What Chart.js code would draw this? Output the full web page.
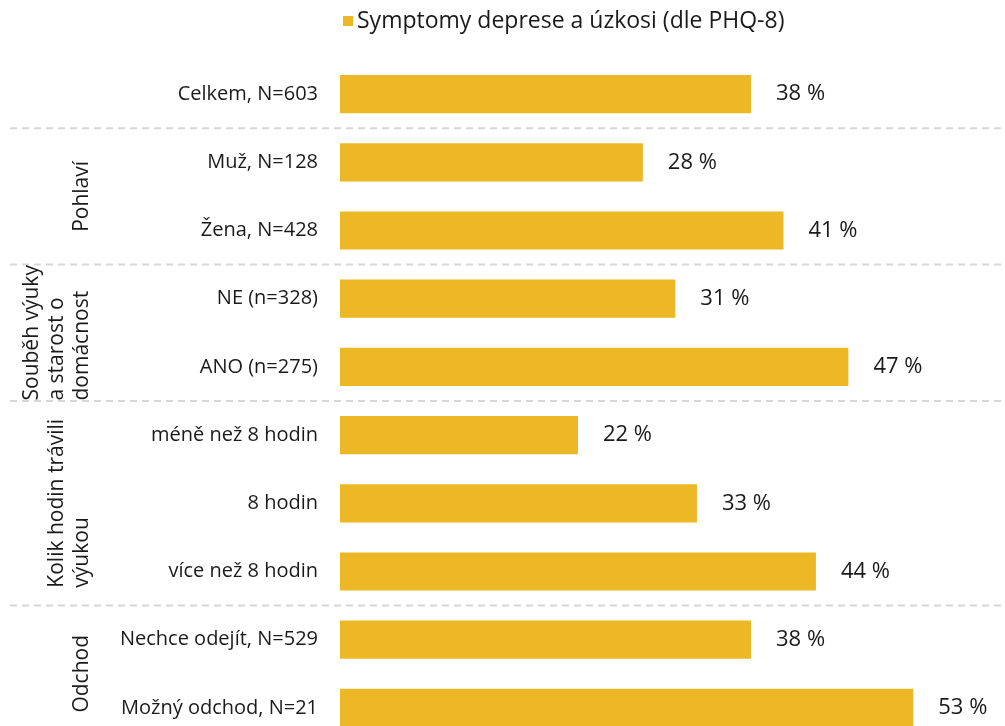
<!DOCTYPE html>
<html>
<head>
<meta charset="utf-8">
<script src="https://cdn.jsdelivr.net/npm/chart.js@4.4.0/dist/chart.umd.min.js"></script>
<style>
    html, body { margin: 0; padding: 0; background: #fff; overflow: hidden; }
    canvas { display: block; }
</style>
</head>
<body>
<canvas id="chart" width="1005" height="776"></canvas>
<script>
const categories = [
    'Celkem, N=603',
    'Muž, N=128', 'Žena, N=428',
    'NE (n=328)', 'ANO (n=275)',
    'méně než 8 hodin', '8 hodin', 'více než 8 hodin',
    'Nechce odejít, N=529', 'Možný odchod, N=21'
];
const values = [38, 28, 41, 31, 47, 22, 33, 44, 38, 53];
const seriesName = 'Symptomy deprese a úzkosi (dle PHQ-8)';

// group titles (lines) and index range of categories they cover
const groupTitles = [
    null,
    ['Pohlaví'],
    ['Souběh výuky', 'a starost o', 'domácnost'],
    ['Kolik hodin trávili', 'výukou'],
    ['Odchod']
];
const groupStarts = [0, 1, 3, 5, 8];
const groupEnds = [0, 2, 4, 7, 9];

const barColor = '#ECB826';
const textColor = '#1a1a1a';
const fontFamily = '"Open Sans", "Noto Sans", sans-serif';

const groupsPlugin = {
    id: 'groups',
    afterDraw(chart) {
        const ctx = chart.ctx;
        const y = chart.scales.y;
        const x = chart.scales.x;
        ctx.save();

        // legend (drawn by hand so it can sit off-centre like the original)
        ctx.fillStyle = barColor;
        ctx.fillRect(343, 16, 10, 10);
        ctx.fillStyle = textColor;
        ctx.font = '23px ' + fontFamily;
        ctx.textBaseline = 'middle';
        ctx.textAlign = 'left';
        ctx.fillText(seriesName, 357, 21);

        // dashed separators between groups
        ctx.strokeStyle = '#d6d6d6';
        ctx.lineWidth = 2;
        ctx.setLineDash([7, 5]);
        for (let g = 1; g < groupStarts.length; g++) {
            const yy = (y.getPixelForValue(groupEnds[g - 1]) + y.getPixelForValue(groupStarts[g])) / 2;
            ctx.beginPath();
            ctx.moveTo(10, yy);
            ctx.lineTo(chart.width, yy);
            ctx.stroke();
        }
        ctx.setLineDash([]);

        // rotated group titles
        ctx.fillStyle = textColor;
        ctx.font = '21px ' + fontFamily;
        groupTitles.forEach((lines, g) => {
            if (!lines) return;
            const cy = (y.getPixelForValue(groupStarts[g]) + y.getPixelForValue(groupEnds[g])) / 2;
            const maxW = Math.max(...lines.map(l => ctx.measureText(l).width));
            lines.forEach((line, i) => {
                const cx = 82 - (lines.length - 1 - i) * 25;
                ctx.save();
                ctx.translate(cx, cy);
                ctx.rotate(-Math.PI / 2);
                ctx.fillText(line, -maxW / 2, 0);
                ctx.restore();
            });
        });

        // value labels
        ctx.font = '22px ' + fontFamily;
        values.forEach((v, i) => {
            ctx.fillText(v + ' %', x.getPixelForValue(v) + 25, y.getPixelForValue(i));
        });
        ctx.restore();
    }
};

new Chart(document.getElementById('chart'), {
    type: 'bar',
    data: {
        labels: categories,
        datasets: [{
            label: seriesName,
            data: values,
            backgroundColor: barColor,
            borderWidth: 0,
            barPercentage: 0.56,
            categoryPercentage: 1
        }]
    },
    options: {
        indexAxis: 'y',
        responsive: false,
        animation: false,
        layout: { padding: { left: 0, right: 16, top: 60, bottom: 0 } },
        scales: {
            x: {
                display: false,
                min: 0,
                max: 60
            },
            y: {
                grid: { display: false, drawTicks: false },
                border: { display: false },
                ticks: {
                    color: textColor,
                    padding: 22,
                    font: { family: fontFamily, size: 20 }
                },
                afterFit(scale) { scale.width = 340; }
            }
        },
        plugins: {
            legend: { display: false },
            tooltip: { enabled: false }
        }
    },
    plugins: [groupsPlugin]
});
</script>
</body>
</html>
